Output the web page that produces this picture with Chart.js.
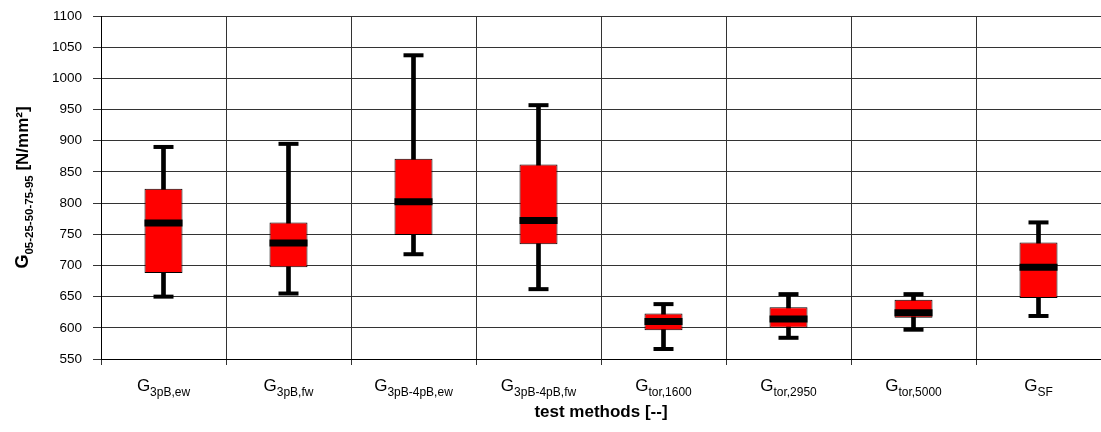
<!DOCTYPE html>
<html>
<head>
<meta charset="utf-8">
<script src="https://cdn.jsdelivr.net/npm/chart.js@4"></script>
<style>
  body { margin: 0; background: #fff; }
  #wrap { width: 1101px; height: 432px; position: relative; }
</style>
</head>
<body>
<div id="wrap"><canvas id="myChart"></canvas></div>
<script>
// test methods (subscripts of G)
var lbls_method = ['3pB,ew', '3pB,fw', '3pB-4pB,ew', '3pB-4pB,fw', 'tor,1600', 'tor,2950', 'tor,5000', 'SF'];
// percentiles [N/mm²]
var p05 = [650, 655, 718, 662, 566, 584, 597, 619];
var p25 = [688, 697, 749, 734, 596, 600, 616, 648];
var p50 = [768, 736, 802, 772, 610, 614, 624, 697];
var p75 = [823, 769, 871, 862, 623, 633, 645, 737];
var p95 = [890, 895, 1037, 957, 638, 654, 654, 769];

var fontFam = '"Liberation Sans", Arial, sans-serif';

var boxes = [], whiskers = [];
for (let i = 0; i < lbls_method.length; i++) {
  boxes[i] = [p25[i], p75[i]];
  whiskers[i] = [p05[i], p95[i]];
}

// draws text parts one after another (main text, subscript, tail) at baseline y
function drawSub(ctx, x, y, parts, align) {
  let total = 0;
  parts.forEach(function (p) { ctx.font = p.font; p.w = ctx.measureText(p.t).width; total += p.w; });
  let cx = align === 'center' ? x - total / 2 : x;
  ctx.textAlign = 'left';
  ctx.textBaseline = 'alphabetic';
  parts.forEach(function (p) {
    ctx.font = p.font;
    ctx.fillText(p.t, cx, y + (p.dy || 0));
    cx += p.w;
  });
}

var labelPlugin = {
  id: 'labels',
  afterDraw: function (chart) {
    var ctx = chart.ctx;
    var xs = chart.scales.x, area = chart.chartArea;
    ctx.save();
    ctx.fillStyle = '#000';
    // category labels with subscripts
    for (let i = 0; i < lbls_method.length; i++) {
      var px = xs.getPixelForValue(i);
      drawSub(ctx, px, 391, [
        { t: 'G', font: '17px ' + fontFam },
        { t: lbls_method[i], font: '12px ' + fontFam, dy: 5 }
      ], 'center');
    }
    // x axis title
    ctx.font = 'bold 17px ' + fontFam;
    ctx.textAlign = 'center';
    ctx.textBaseline = 'middle';
    ctx.fillText('test methods [--]', (area.left + area.right) / 2, 412);
    // y axis title, rotated
    ctx.translate(22, (area.top + area.bottom) / 2);
    ctx.rotate(-Math.PI / 2);
    drawSub(ctx, 0, 6, [
      { t: 'G', font: 'bold 18px ' + fontFam },
      { t: '05-25-50-75-95', font: 'bold 11.5px ' + fontFam, dy: 5 },
      { t: ' [N/mm²]', font: 'bold 17px ' + fontFam }
    ], 'center');
    ctx.restore();
  }
};

var ctx = document.getElementById('myChart').getContext('2d');
var myChart = new Chart(ctx, {
  type: 'bar',
  data: {
    labels: lbls_method,
    datasets: [
      {
        // median bar
        type: 'line',
        label: 'median',
        data: p50,
        showLine: false,
        pointStyle: 'line',
        pointRadius: 19,
        pointBorderWidth: 7,
        pointBorderColor: '#000',
        pointBackgroundColor: '#000',
        order: 0
      },
      {
        // whisker caps
        type: 'line',
        label: 'p05',
        data: p05,
        showLine: false,
        pointStyle: 'line',
        pointRadius: 10,
        pointBorderWidth: 4,
        pointBorderColor: '#000',
        order: 0
      },
      {
        type: 'line',
        label: 'p95',
        data: p95,
        showLine: false,
        pointStyle: 'line',
        pointRadius: 10,
        pointBorderWidth: 4,
        pointBorderColor: '#000',
        order: 0
      },
      {
        label: 'box',
        data: boxes,
        backgroundColor: '#ff0000',
        borderColor: '#000',
        borderWidth: 1,
        borderSkipped: false,
        grouped: false,
        barPercentage: 0.304,
        categoryPercentage: 1,
        order: 1
      },
      {
        label: 'whisker',
        data: whiskers,
        backgroundColor: '#000',
        borderWidth: 0,
        grouped: false,
        barThickness: 4,
        order: 2
      }
    ]
  },
  options: {
    responsive: true,
    maintainAspectRatio: false,
    animation: false,
    layout: { autoPadding: false, padding: { top: 16, right: 0, left: 0, bottom: 0 } },
    plugins: {
      legend: { display: false },
      tooltip: { enabled: false }
    },
    scales: {
      x: {
        offset: true,
        grid: { offset: true, color: '#333', lineWidth: 1, tickLength: 6 },
        border: { color: '#000', width: 1 },
        ticks: { callback: function () { return ''; } },
        afterFit: function (scale) {
          scale.height = 73;
          scale.paddingLeft = 0;
          scale.paddingRight = 0;
        }
      },
      y: {
        min: 550,
        max: 1100,
        ticks: {
          stepSize: 50,
          padding: 11,
          color: '#000',
          font: { family: fontFam, size: 13.5 },
          callback: function (v) { return String(v); }
        },
        grid: { color: '#333', lineWidth: 1, tickLength: 8 },
        border: { color: '#000', width: 1 },
        afterFit: function (scale) {
          scale.width = 101;
          scale.paddingTop = 0;
          scale.paddingBottom = 0;
        }
      }
    }
  },
  plugins: [labelPlugin]
});
</script>
</body>
</html>
